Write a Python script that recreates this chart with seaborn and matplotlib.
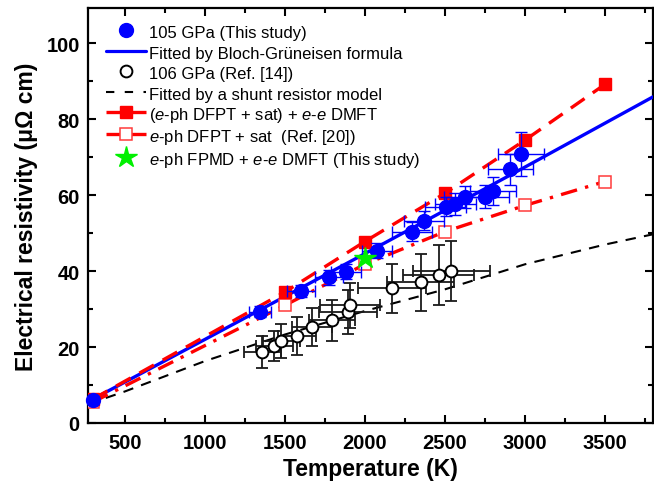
import matplotlib
matplotlib.use("Agg")
import matplotlib.pyplot as plt
from matplotlib.lines import Line2D
from matplotlib.ticker import MultipleLocator
import seaborn as sns

# ---------------- data ----------------
# 105 GPa (This study)
blue_T = [300, 1346, 1601, 1776, 1881, 2074, 2292, 2367, 2504, 2566, 2628, 2753, 2802, 2908, 2977]
blue_rho = [6.0, 29.3, 34.8, 38.4, 39.8, 45.4, 50.4, 53.3, 56.9, 57.7, 59.5, 59.6, 61.2, 66.8, 70.9]
blue_xerr = [0, 68, 87, 90, 95, 93, 125, 125, 130, 130, 135, 145, 145, 140, 145]
blue_yerr = [0, 1.5, 1.5, 2.0, 2.0, 2.0, 2.5, 2.5, 2.5, 3.0, 3.0, 3.0, 3.7, 4.0, 5.8]

# Bloch-Gruneisen fit
bg_T = [270, 1000, 2000, 3000, 3800]
bg_rho = [5.6, 22.0, 44.6, 67.4, 85.9]

# 106 GPa (Ref. [14])
blk_T = [1359, 1433, 1477, 1577, 1670, 1794, 1894, 1906, 2168, 2348, 2460, 2541]
blk_rho = [18.7, 20.3, 21.6, 23.0, 25.3, 27.1, 29.2, 31.0, 35.5, 37.1, 39.0, 40.0]
blk_xerr = [114, 115, 115, 118, 124, 145, 180, 186, 214, 210, 220, 240]
blk_yerr = [4.3, 4.0, 4.5, 5.0, 5.0, 5.4, 5.8, 6.0, 6.5, 7.5, 8.0, 8.0]

# shunt resistor model fit
sh_T = [270, 500, 1000, 1500, 2000, 2500, 3000, 3500, 3800]
sh_rho = [5.0, 8.3, 16.3, 23.3, 29.5, 35.2, 41.8, 47.0, 49.7]

# (e-ph DFPT + sat) + e-e DMFT
red_T = [300, 1500, 2000, 2500, 3000, 3500]
red_rho = [6.3, 34.5, 47.8, 60.5, 74.5, 89.2]

# e-ph DFPT + sat (Ref. [20])
ro_T = [300, 1500, 2000, 2500, 3000, 3500]
ro_rho = [5.5, 31.0, 41.8, 50.4, 57.3, 63.6]

# e-ph FPMD + e-e DMFT (This study)
star_T = [2000]
star_rho = [43.5]

labels = [
    "105 GPa (This study)",
    "Fitted by Bloch-Grüneisen formula",
    "106 GPa (Ref. [14])",
    "Fitted by a shunt resistor model",
    r"($\mathit{e}$-ph DFPT + sat) + $\mathit{e}$-$\mathit{e}$ DMFT",
    r"$\mathit{e}$-ph DFPT + sat  (Ref. [20])",
    r"$\mathit{e}$-ph FPMD + $\mathit{e}$-$\mathit{e}$ DMFT (This study)",
]

# ---------------- style ----------------
sns.set_theme(style="ticks")
plt.rcParams["font.family"] = ["Liberation Sans", "DejaVu Sans"]
plt.rcParams["mathtext.fontset"] = "custom"
plt.rcParams["mathtext.rm"] = "Liberation Sans"
plt.rcParams["mathtext.it"] = "Liberation Sans:italic"
plt.rcParams["mathtext.bf"] = "Liberation Sans:bold"
plt.rcParams["text.color"] = "black"
plt.rcParams["axes.labelcolor"] = "black"
plt.rcParams["xtick.color"] = "black"
plt.rcParams["ytick.color"] = "black"
plt.rcParams["axes.edgecolor"] = "black"

BLUE = "#0000FF"
RED = "#FF0000"
RED_OPEN = "#FF3B3B"
GREEN = "#00F000"
BLACK = "#1a1a1a"

fig = plt.figure(figsize=(6.54, 4.85), dpi=100)
ax = fig.add_axes([88 / 654, 61 / 485, 565 / 654, 415 / 485])

# shunt model (black dashed)
sns.lineplot(x=sh_T, y=sh_rho, ax=ax, color="black", linewidth=1.5,
             linestyle=(0, (5, 4)), zorder=1, sort=False, estimator=None)

# 106 GPa data with error bars
ax.errorbar(blk_T, blk_rho, xerr=blk_xerr, yerr=blk_yerr, fmt="none",
            ecolor=BLACK, elinewidth=1.3, capsize=4.5, capthick=1.3, zorder=2)
ax.plot(blk_T, blk_rho, linestyle="none", marker="o", markersize=8.5,
        markerfacecolor="white", markeredgecolor="black", markeredgewidth=1.4, zorder=2.5)

# Bloch-Gruneisen fit (blue line)
sns.lineplot(x=bg_T, y=bg_rho, ax=ax, color=BLUE, linewidth=2.4, zorder=3,
             sort=False, estimator=None)

# red model lines
sns.lineplot(x=ro_T, y=ro_rho, ax=ax, color=RED, linewidth=2.4,
             linestyle=(0, (5, 2.5, 1, 2.5)), zorder=4, sort=False, estimator=None)
ax.plot(ro_T, ro_rho, linestyle="none", marker="s", markersize=8.5,
        markerfacecolor="white", markeredgecolor=RED_OPEN, markeredgewidth=1.1, zorder=4.2)
sns.lineplot(x=red_T, y=red_rho, ax=ax, color=RED, linewidth=2.4,
             linestyle=(0, (5, 3)), zorder=4.1, sort=False, estimator=None)
ax.plot(red_T, red_rho, linestyle="none", marker="s", markersize=8.5,
        markerfacecolor=RED, markeredgecolor=RED, zorder=4.3)

# 105 GPa data with error bars
ax.errorbar(blue_T, blue_rho, xerr=blue_xerr, yerr=blue_yerr, fmt="none",
            ecolor=BLUE, elinewidth=1.0, capsize=4, capthick=1.0, zorder=5)
ax.plot(blue_T, blue_rho, linestyle="none", marker="o", markersize=10,
        markerfacecolor=BLUE, markeredgecolor=BLUE, zorder=5.5, clip_on=False)

# star
ax.plot(star_T, star_rho, linestyle="none", marker="*", markersize=16,
        markerfacecolor=GREEN, markeredgecolor=GREEN, zorder=7)

# ---------------- axes ----------------
ax.set_xlim(270, 3800)
ax.set_ylim(0, 109.3)
ax.xaxis.set_major_locator(MultipleLocator(500))
ax.xaxis.set_minor_locator(MultipleLocator(250))
ax.yaxis.set_major_locator(MultipleLocator(20))
ax.yaxis.set_minor_locator(MultipleLocator(10))
ax.tick_params(which="both", direction="in", top=True, right=True, width=1.5, color="black")
ax.tick_params(which="major", length=6)
ax.tick_params(which="minor", length=3.5)
ax.tick_params(axis="x", which="major", pad=7)
ax.tick_params(axis="y", which="major", pad=6)
for lab in ax.get_xticklabels() + ax.get_yticklabels():
    lab.set_fontweight("bold")
    lab.set_fontsize(14.5)
    lab.set_color("black")
for s in ax.spines.values():
    s.set_linewidth(1.6)
    s.set_color("black")

ax.set_xlabel("Temperature (K)", fontsize=16.5, fontweight="bold", labelpad=4, color="black")
ax.set_ylabel("Electrical resistivity (μΩ cm)", fontsize=16.5, fontweight="bold",
              labelpad=6, color="black")

# ---------------- legend ----------------
handles = [
    Line2D([], [], linestyle="none", marker="o", markersize=10, color=BLUE),
    Line2D([], [], color=BLUE, linewidth=2.3),
    Line2D([], [], linestyle="none", marker="o", markersize=8.5,
           markerfacecolor="white", markeredgecolor="black", markeredgewidth=1.4),
    Line2D([], [], color="black", linewidth=1.5, linestyle=(0, (4, 5))),
    Line2D([], [], color=RED, linewidth=2.4, linestyle=(0, (5, 2.5)), marker="s",
           markersize=8.5, markerfacecolor=RED, markeredgecolor=RED),
    Line2D([], [], color=RED, linewidth=2.4, linestyle=(0, (5, 2.5)), marker="s",
           markersize=8.5, markerfacecolor="white", markeredgecolor=RED_OPEN,
           markeredgewidth=1.1),
    Line2D([], [], linestyle="none", marker="*", markersize=16, color=GREEN),
]
leg = ax.legend(handles, labels, loc="upper left", bbox_to_anchor=(0.02, 0.98),
                frameon=False, fontsize=12, handlelength=2.4, handletextpad=0.2,
                handleheight=1.25, labelspacing=0.17, borderaxespad=0.2, borderpad=0.2)
for t in leg.get_texts():
    t.set_color("black")

fig.savefig("out.png", dpi=100)
